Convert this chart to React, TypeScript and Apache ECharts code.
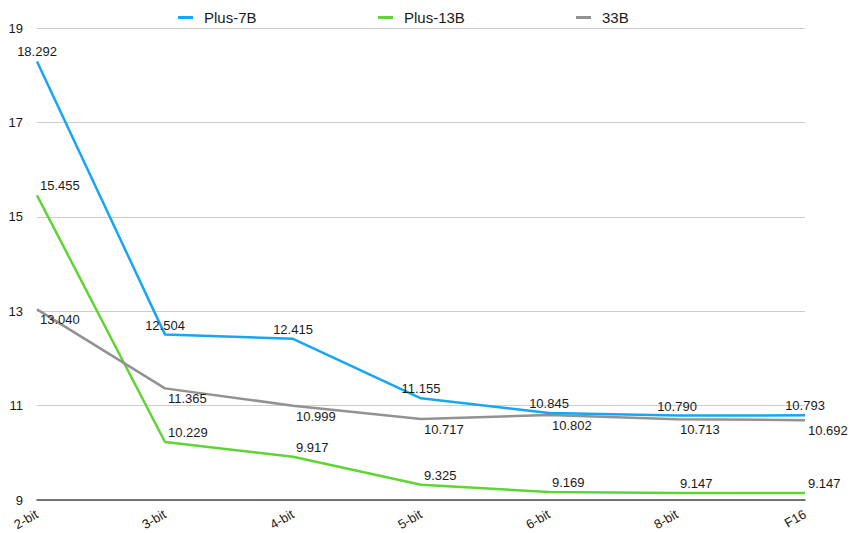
import React, { useEffect, useRef } from "react";
import * as echarts from "echarts";

const categories = ["2-bit", "3-bit", "4-bit", "5-bit", "6-bit", "8-bit", "F16"];
const plus7B = [18.292, 12.504, 12.415, 11.155, 10.845, 10.79, 10.793];
const plus13B = [15.455, 10.229, 9.917, 9.325, 9.169, 9.147, 9.147];
const b33 = [13.04, 11.365, 10.999, 10.717, 10.802, 10.713, 10.692];
const seriesNames = ["Plus-7B", "Plus-13B", "33B"];
const yTicks = { min: 9, max: 19, interval: 2 };

const FONT = "'Liberation Sans', Arial, Helvetica, sans-serif";
const COLORS = ["#16A6F4", "#5FD534", "#929292"];

export default function App() {
  const ref = useRef<HTMLDivElement>(null);
  useEffect(() => {
    if (!ref.current) return;
    const chart = echarts.init(ref.current, null, { renderer: "svg" });
    const fmt = (p: any) => Number(p.value).toFixed(3);
    const labelBase = {
      show: true,
      fontSize: 13,
      color: "#1a1a1a",
      fontFamily: FONT,
      formatter: fmt,
    };
    const legendAt = (left: number, name: string) => ({
      left,
      top: 5,
      data: [name],
      icon: "rect",
      itemWidth: 15,
      itemHeight: 3,
      textStyle: {
        fontSize: 15,
        color: "#1a1a1a",
        fontFamily: FONT,
        padding: [0, 0, 0, 6],
      },
    });
    chart.setOption({
      animation: false,
      color: COLORS,
      textStyle: { fontFamily: FONT },
      legend: [
        legendAt(173, seriesNames[0]),
        legendAt(373, seriesNames[1]),
        legendAt(571, seriesNames[2]),
      ],
      grid: { left: 37, right: 47, top: 28, bottom: 33 },
      xAxis: {
        type: "category",
        data: categories,
        boundaryGap: false,
        axisTick: { show: false },
        axisLine: { show: true, lineStyle: { color: "#4d4d4d", width: 1.5 } },
        axisLabel: {
          rotate: 30,
          margin: 13,
          fontSize: 13,
          color: "#1a1a1a",
          fontFamily: FONT,
        },
        splitLine: { show: false },
      },
      yAxis: {
        type: "value",
        min: yTicks.min,
        max: yTicks.max,
        interval: yTicks.interval,
        axisLine: { show: false },
        axisTick: { show: false },
        axisLabel: {
          margin: 14,
          fontSize: 13,
          color: "#1a1a1a",
          fontFamily: FONT,
        },
        splitLine: { lineStyle: { color: "#cccccc", width: 1 } },
      },
      series: [
        {
          name: seriesNames[0],
          type: "line",
          data: plus7B,
          symbol: "circle",
          symbolSize: 0,
          lineStyle: { width: 2.5 },
          label: { ...labelBase, position: "top", distance: 3 },
          z: 3,
        },
        {
          name: seriesNames[1],
          type: "line",
          data: plus13B,
          symbol: "circle",
          symbolSize: 0,
          lineStyle: { width: 2.5 },
          label: { ...labelBase, position: "top", align: "left", offset: [3, 0], distance: 3 },
          z: 2,
        },
        {
          name: seriesNames[2],
          type: "line",
          data: b33,
          symbol: "circle",
          symbolSize: 0,
          lineStyle: { width: 2.5 },
          label: { ...labelBase, position: "bottom", align: "left", offset: [3, 0], distance: 4 },
          z: 2,
        },
      ],
    });
    return () => chart.dispose();
  }, []);
  return <div ref={ref} style={{ width: 852, height: 533, position: "absolute", left: 0, top: 0 }} />;
}
